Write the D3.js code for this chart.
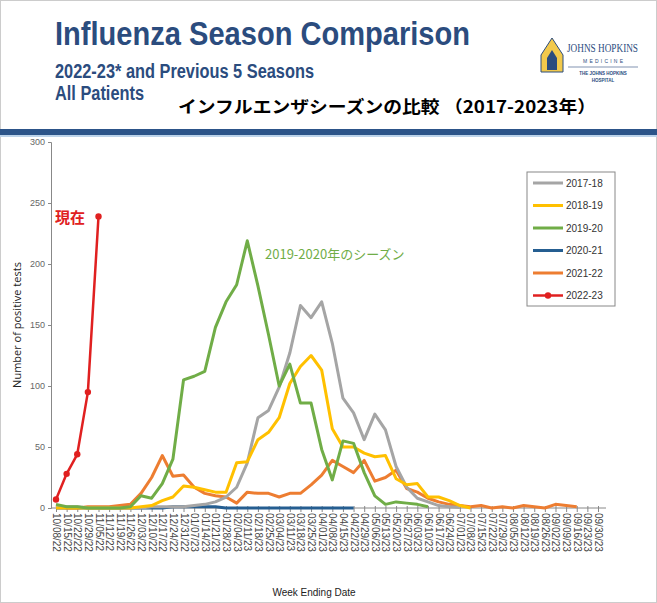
<!DOCTYPE html>
<html><head><meta charset="utf-8">
<script src="https://cdn.jsdelivr.net/npm/d3@7"></script>
<style>body{margin:0;background:#fff}svg{display:block}</style></head>
<body><svg id="c" width="657" height="603"></svg>
<script>
const weeks=["10/08/22","10/15/22","10/22/22","10/29/22","11/05/22","11/12/22","11/19/22","11/26/22","12/03/22","12/10/22","12/17/22","12/24/22","12/31/22","01/07/23","01/14/23","01/21/23","01/28/23","02/04/23","02/11/23","02/18/23","02/25/23","03/04/23","03/11/23","03/18/23","03/25/23","04/01/23","04/08/23","04/15/23","04/22/23","04/29/23","05/06/23","05/13/23","05/20/23","05/27/23","06/03/23","06/10/23","06/17/23","06/24/23","07/01/23","07/08/23","07/15/23","07/22/23","07/29/23","08/05/23","08/12/23","08/19/23","08/26/23","09/02/23","09/09/23","09/16/23","09/23/23","09/30/23"];
const yTicks=[0,50,100,150,200,250,300];
const s1718=[1,1,1,0,0,0,0,0,0,1,1,1,1,2,3,5,9,17,37,74,80,99,127,166,156,169,135,90,78,56,77,64,34,17,8,5,2,1,0.5];
const s1819=[0,0,0,0,0,0,0,0,1,2,6,9,18,17,15,13,13,37,38,56,62,74,102,116,125,113,65,50,50,45,42,43,24,19,20,9,9,6,2,0];
const s1920=[3,1,1,0,0,0,0,1,10,8,20,40,105,108,112,148,169,183,219,182,142,100,118,86,86,48,23,55,53,29,10,3,5,4,3,1];
const s2021=[0,0,0,0,0,0,0,0,0,0,0,1,1,1,1,1,0,0,0,0,0,0,0,0,0,0,0,0,0];
const s2122=[2,0,0,1,1,1,2,3,12,25,43,26,27,17,12,10,9,4,13,12,12,9,12,12,19,27,39,34,29,39,22,25,31,16,13,8,5,3,2,1,2,0,1,0,2,1,0,3,2,1];
const s2223=[7,28,44,95,239];
const seriesNames=["2017-18","2018-19","2019-20","2020-21","2021-22","2022-23"];
const seriesColors=["#a5a5a5","#ffc000","#70ad47","#255e91","#ed7d31","#e02020"];
const seriesData=[s1718,s1819,s1920,s2021,s2122,s2223];

const svg=d3.select("#c");
svg.append("rect").attr("x",0.5).attr("y",0.5).attr("width",656).attr("height",602).attr("fill","#fff").attr("stroke","#ccc");
const hf="Liberation Sans Narrow, Liberation Sans, Arial";
svg.append("text").attr("x",55).attr("y",45).attr("font-family",hf).attr("font-weight","bold").attr("font-size",34).attr("fill","#2b4c7e").attr("textLength",415).attr("lengthAdjust","spacingAndGlyphs").text("Influenza Season Comparison");
svg.append("text").attr("x",55).attr("y",78).attr("font-family",hf).attr("font-weight","bold").attr("font-size",20).attr("fill","#2b4c7e").attr("textLength",259).attr("lengthAdjust","spacingAndGlyphs").text("2022-23* and Previous 5 Seasons");
svg.append("text").attr("x",55).attr("y",100).attr("font-family",hf).attr("font-weight","bold").attr("font-size",20).attr("fill","#2b4c7e").attr("textLength",89).attr("lengthAdjust","spacingAndGlyphs").text("All Patients");
svg.append("text").attr("x",178).attr("y",113).attr("font-family","Noto Sans CJK JP").attr("font-weight","bold").attr("font-size",17).attr("fill","#000").attr("textLength",418).attr("lengthAdjust","spacingAndGlyphs").text("インフルエンザシーズンの比較 （2017-2023年）");
// logo
const lg=svg.append("g");
lg.append("path").attr("d","M552,38 L563,55 L563,72 L541,72 L541,55 Z").attr("fill","#f2c94c").attr("stroke","#2b4c7e");
lg.append("path").attr("d","M552,50 L557,58 L557,70 L547,70 L547,58 Z").attr("fill","#2b4c7e");
lg.append("text").attr("x",567).attr("y",52).attr("font-family","Liberation Serif").attr("font-size",12).attr("fill","#2b4c7e").attr("textLength",71).attr("lengthAdjust","spacingAndGlyphs").text("JOHNS HOPKINS");
lg.append("text").attr("x",603).attr("y",63).attr("text-anchor","middle").attr("font-family","Liberation Sans").attr("font-size",5).attr("fill","#2b4c7e").attr("textLength",40).attr("lengthAdjust","spacing").text("MEDICINE");
lg.append("line").attr("x1",568).attr("x2",638).attr("y1",67).attr("y2",67).attr("stroke","#2b4c7e").attr("stroke-width",0.6);
lg.append("text").attr("x",603).attr("y",75).attr("text-anchor","middle").attr("font-family","Liberation Sans").attr("font-weight","bold").attr("font-size",4.5).attr("fill","#2b4c7e").text("THE JOHNS HOPKINS");
lg.append("text").attr("x",603).attr("y",82).attr("text-anchor","middle").attr("font-family","Liberation Sans").attr("font-weight","bold").attr("font-size",4.5).attr("fill","#2b4c7e").text("HOSPITAL");
svg.append("rect").attr("x",0).attr("y",129).attr("width",657).attr("height",6).attr("fill","#2c5489");
svg.append("rect").attr("x",0).attr("y",135).attr("width",657).attr("height",2).attr("fill","#bcd3ea");

// chart
const x=d3.scalePoint().domain(weeks).range([56,598]);
const y=d3.scaleLinear().domain([0,300]).range([508,142]);
const ax=svg.append("g").attr("transform","translate(0,508)")
  .call(d3.axisBottom(x).tickSize(5).tickSizeOuter(0));
ax.select(".domain").attr("d","M51,0H606").attr("stroke","#888");
ax.selectAll(".tick line").attr("stroke","#888").attr("y1",-2).attr("y2",4);
ax.selectAll(".tick text").attr("transform","rotate(90)").attr("text-anchor","start").attr("x",5).attr("y",0).attr("dy","0.35em").attr("font-family","Liberation Sans Narrow, Liberation Sans").attr("font-size",10).attr("fill","#444");
const ay=svg.append("g").attr("transform","translate(51,0)").call(d3.axisLeft(y).tickValues(yTicks).tickSize(3));
ay.select(".domain").attr("stroke","#888");
ay.selectAll(".tick line").attr("stroke","#888");
ay.selectAll(".tick text").attr("font-family","Liberation Sans Narrow, Liberation Sans").attr("font-size",9).attr("fill","#666");
svg.append("text").attr("transform","translate(21,325) rotate(-90)").attr("text-anchor","middle").attr("font-family","Open Sans, Liberation Sans").attr("font-size",11).attr("fill","#222").text("Number of positive tests");
svg.append("text").attr("x",314).attr("y",596).attr("text-anchor","middle").attr("font-family","Liberation Sans").attr("font-size",10).attr("fill","#222").text("Week Ending Date");

const line=d3.line().x((d,i)=>x(weeks[i])).y(d=>y(d));
const order=[3,4,0,1,2,5];
order.forEach(k=>{
  svg.append("path").datum(seriesData[k]).attr("d",line).attr("fill","none").attr("stroke",seriesColors[k]).attr("stroke-width",k===5?2.5:3).attr("stroke-linejoin","round");
});
svg.selectAll(".dot").data(s2223).enter().append("circle").attr("cx",(d,i)=>x(weeks[i])).attr("cy",d=>y(d)).attr("r",3.2).attr("fill",seriesColors[5]);

svg.append("text").attr("x",265).attr("y",259).attr("font-family","Noto Sans CJK JP").attr("font-size",13).attr("fill","#70ad47").text("2019-2020年のシーズン");
svg.append("text").attr("x",55).attr("y",223).attr("font-family","Noto Sans CJK JP").attr("font-weight","bold").attr("font-size",15).attr("fill","#e02020").text("現在");

// legend
const leg=svg.append("g");
leg.append("rect").attr("x",527).attr("y",172).attr("width",88).attr("height",134).attr("fill","#fff").attr("stroke","#888");
seriesNames.forEach((n,i)=>{
  const yy=183+i*22.5;
  leg.append("line").attr("x1",533).attr("x2",563).attr("y1",yy).attr("y2",yy).attr("stroke",seriesColors[i]).attr("stroke-width",i===5?2.5:3);
  if(i===5) leg.append("circle").attr("cx",548).attr("cy",yy).attr("r",3.2).attr("fill",seriesColors[i]);
  leg.append("text").attr("x",566).attr("y",yy).attr("dy","0.35em").attr("font-family","Liberation Sans Narrow, Liberation Sans").attr("font-size",10).attr("fill","#333").text(n);
});
</script></body></html>
